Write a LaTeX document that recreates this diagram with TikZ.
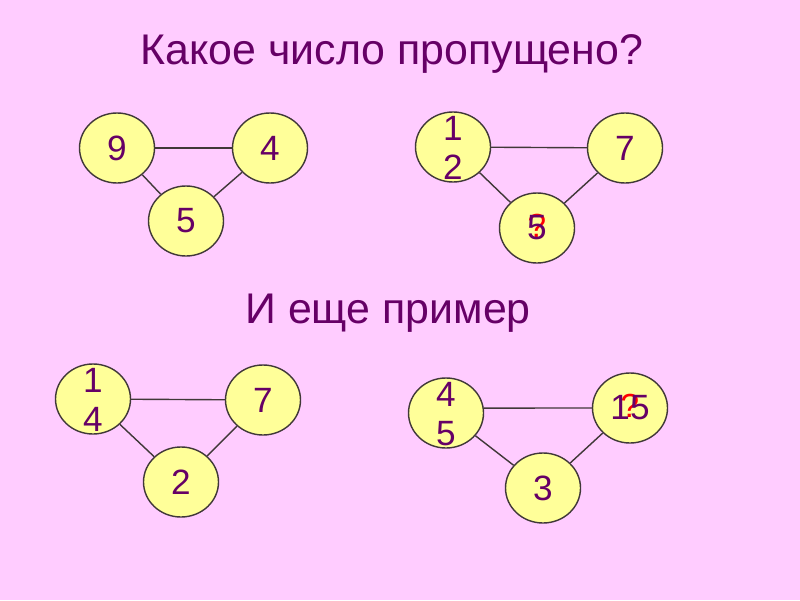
\documentclass[tikz,border=0pt]{standalone}
\usepackage{fontspec}
\setmainfont{Liberation Sans}
\usetikzlibrary{shapes.geometric}
\definecolor{slidepink}{HTML}{FFCCFF}
\definecolor{ballfill}{HTML}{FFFF99}
\definecolor{numpurple}{HTML}{660066}
\definecolor{rimgray}{HTML}{403838}
\newcommand{\twodig}[2]{\smash{\raisebox{-8pt}{\begin{tabular}{@{}c@{}}#1\\#2\end{tabular}}}}
\begin{document}
\begin{tikzpicture}[
  ball/.style={ellipse, draw=rimgray, line width=0.8pt, fill=ballfill, text=numpurple,
    minimum width=1.5cm, minimum height=1.4cm, inner sep=1pt,
    font=\fontsize{20}{22.2}\selectfont},
  qmark/.style={text=red, inner sep=0pt, font=\fontsize{19}{22}\selectfont},
  hidden/.style={path picture={\node[qmark] (#1) at
    ([yshift=1.5pt]path picture bounding box.center) {?};}},
  link/.style={draw=rimgray, line width=0.8pt},
  heading/.style={text=numpurple, anchor=base, font=\fontsize{24.4}{28}\selectfont}]
  \fill[slidepink] (0,0) rectangle (16,12);
  \node[heading] (title) at (7.84,10.71) {Какое число пропущено?};
  \node[heading] (more) at (7.76,5.54) {И еще пример};
  % first example
  \node[ball] (a9) at (2.34,9.04) {9};
  \node[ball] (a4) at (5.40,9.04) {4};
  \node[ball] (a5) at (3.72,7.58) {5};
  \draw[link] (a9) -- (a4);
  \draw[link] (a9) -- (a5);
  \draw[link] (a4) -- (a5);
  % second example
  \node[ball] (b12) at (9.06,9.06) {\twodig{1}{2}};
  \node[ball] (b7) at (12.50,9.04) {7};
  \node[ball, hidden=bq] (b5) at (10.74,7.44) {5};
  \draw[link] (b12) -- (b7);
  \draw[link] (b12) -- (b5);
  \draw[link] (b7) -- (b5);
  % third example
  \node[ball] (c14) at (1.86,4.02) {\twodig{1}{4}};
  \node[ball] (c7) at (5.26,4.00) {7};
  \node[ball] (c2) at (3.62,2.36) {2};
  \draw[link] (c14) -- (c7);
  \draw[link] (c14) -- (c2);
  \draw[link] (c7) -- (c2);
  % fourth example
  \node[ball] (d45) at (8.92,3.74) {\twodig{4}{5}};
  \node[ball, hidden=dq] (d15) at (12.60,3.84) {15};
  \node[ball] (d3) at (10.86,2.24) {3};
  \draw[link] ([yshift=2.8pt]d45.east) -- (d15.west);
  \draw[link] (d45) -- (d3);
  \draw[link] (d15) -- (d3);
\end{tikzpicture}
\end{document}
